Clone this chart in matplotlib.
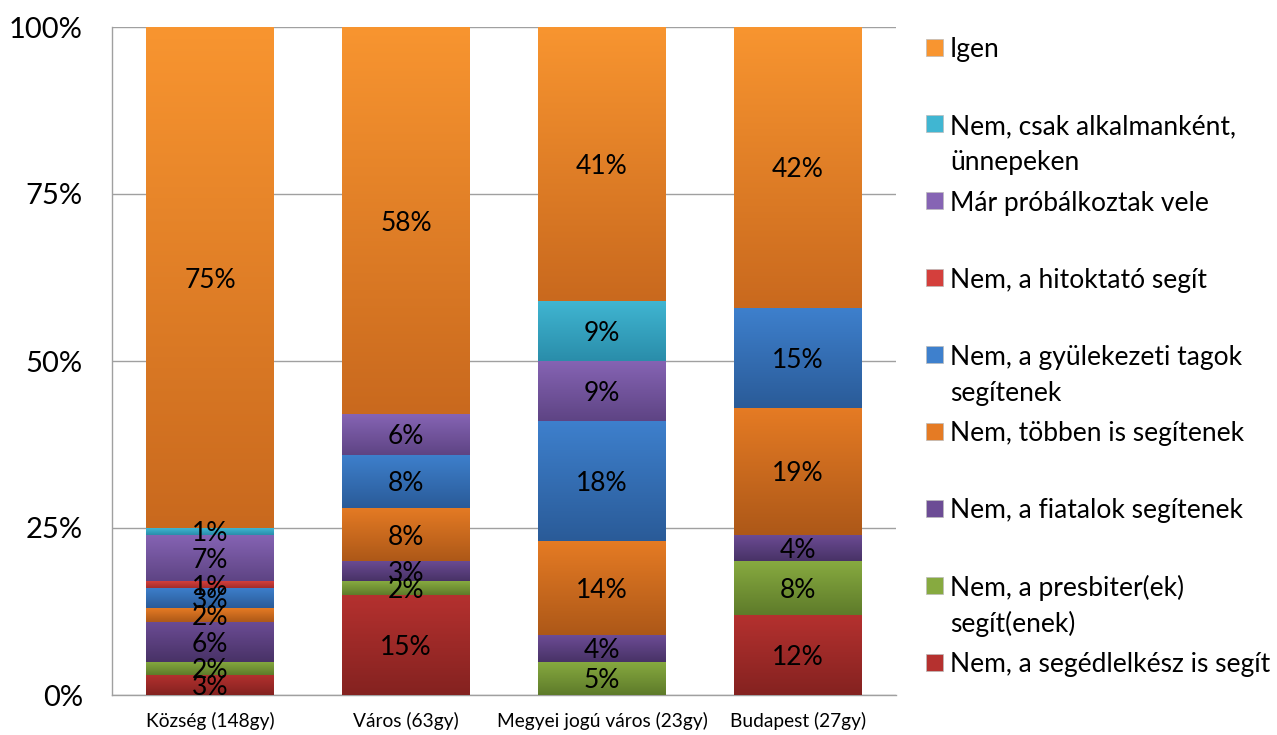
import matplotlib
matplotlib.use('Agg')
import matplotlib.pyplot as plt
import numpy as np
from matplotlib.colors import LinearSegmentedColormap
from matplotlib.patches import Rectangle

plt.rcParams['font.family'] = ['Lato', 'DejaVu Sans']

categories = ['Község (148gy)', 'Város (63gy)', 'Megyei jogú város (23gy)', 'Budapest (27gy)']

# stacked from bottom to top
series_names = ['Nem, a segédlelkész is segít',
                'Nem, a presbiter(ek)\nsegít(enek)',
                'Nem, a fiatalok segítenek',
                'Nem, többen is segítenek',
                'Nem, a gyülekezeti tagok\nsegítenek',
                'Nem, a hitoktató segít',
                'Már próbálkoztak vele',
                'Nem, csak alkalmanként,\nünnepeken',
                'Igen']
segedlelkesz = [3, 15, 0, 12]
presbiter = [2, 2, 5, 8]
fiatalok = [6, 3, 4, 4]
tobben = [2, 8, 14, 19]
gyulekezeti = [3, 8, 18, 15]
hitoktato = [1, 0, 0, 0]
mar_probaltak = [7, 6, 9, 0]
alkalmankent = [1, 0, 9, 0]
igen = [75, 58, 41, 42]
series_values = [segedlelkesz, presbiter, fiatalok, tobben, gyulekezeti,
                 hitoktato, mar_probaltak, alkalmankent, igen]

yticks = [0, 25, 50, 75, 100]
ytick_labels = ['0%', '25%', '50%', '75%', '100%']

# gradient colours (top, bottom)
grad_colors = [('#B5312F', '#842220'),
               ('#87AA40', '#5E7B2A'),
               ('#6C4C95', '#483266'),
               ('#E57B24', '#AD5818'),
               ('#3E80CD', '#2A5B98'),
               ('#D43F3C', '#A32D2B'),
               ('#8664B4', '#5E4484'),
               ('#40B6D2', '#2A8DAA'),
               ('#F89530', '#C9691E')]

W, H = 1277, 735
fig = plt.figure(figsize=(W / 100, H / 100), dpi=100)
ax = fig.add_axes([112 / W, 1 - 695 / H, (896 - 112) / W, (695 - 27) / H])

x = np.arange(len(categories))
bar_w = 0.65
bottom = np.zeros(len(categories))
grad = np.linspace(0, 1, 256).reshape(-1, 1)
for vals, (ctop, cbot) in zip(series_values, grad_colors):
    vals = np.array(vals, dtype=float)
    bars = ax.bar(x, vals, bar_w, bottom=bottom, color=ctop, edgecolor='none', zorder=2)
    cmap = LinearSegmentedColormap.from_list('g', [ctop, cbot])
    for b, v in zip(bars, vals):
        if v <= 0:
            continue
        x0, y0, bw, bh = b.get_x(), b.get_y(), b.get_width(), b.get_height()
        im = ax.imshow(grad, cmap=cmap, aspect='auto', origin='upper',
                       extent=(x0, x0 + bw, y0, y0 + bh), zorder=3,
                       interpolation='bilinear')
        im.set_clip_path(b)
        ax.text(x0 + bw / 2, y0 + bh / 2, f'{int(v)}%', ha='center',
                va='center_baseline', fontsize=19, color='black', zorder=4)
    bottom += vals

ax.set_xlim(-0.5, len(categories) - 0.5)
ax.set_ylim(0, 100)
ax.set_yticks(yticks)
ax.set_yticklabels(ytick_labels, fontsize=21)
ax.set_xticks(x)
ax.set_xticklabels(categories, fontsize=13.8)
ax.tick_params(axis='y', length=0, pad=21)
ax.tick_params(axis='x', length=0, pad=12)
ax.grid(axis='y', color='#A0A0A0', lw=1, zorder=0)
ax.set_axisbelow(True)
for s in ['top', 'right']:
    ax.spines[s].set_visible(False)
for s in ['left', 'bottom']:
    ax.spines[s].set_color('#A0A0A0')
    ax.spines[s].set_linewidth(1)

# legend (top to bottom = reverse stacking order)
leg_items = list(zip(series_names, grad_colors))[::-1]
for i, (name, (ctop, cbot)) in enumerate(leg_items):
    ypx = 47 + i * 76.9
    fig.add_artist(Rectangle((926 / W, 1 - (ypx + 8.5) / H), 17 / W, 17 / H,
                             transform=fig.transFigure, facecolor=ctop,
                             edgecolor='#BBBBBB', lw=0.5))
    for j, line in enumerate(name.split('\n')):
        fig.text(950 / W, 1 - (ypx + j * 36) / H, line, fontsize=19,
                 ha='left', va='center_baseline', color='black')

fig.savefig('out.png', dpi=100)
